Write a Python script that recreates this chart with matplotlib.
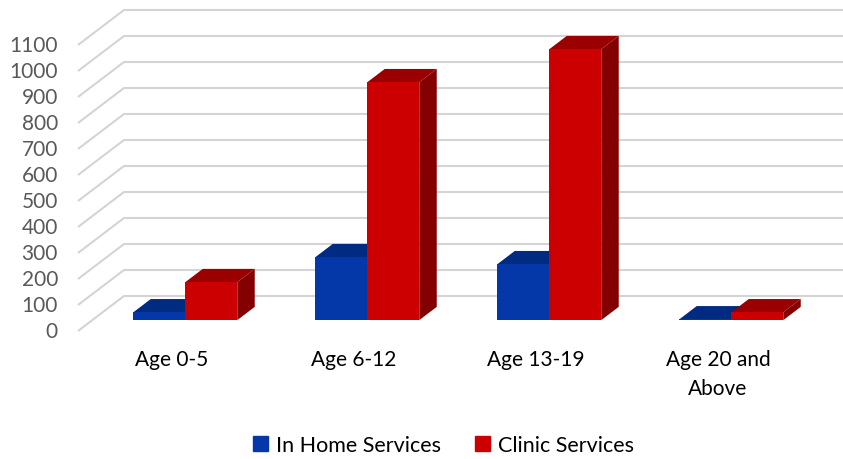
import matplotlib.pyplot as plt
from matplotlib.patches import Polygon, Patch

categories = ["Age 0-5", "Age 6-12", "Age 13-19", "Age 20 and\nAbove"]
in_home = [30, 242, 215, 3]
clinic = [146, 915, 1042, 30]
series_names = ["In Home Services", "Clinic Services"]
y_ticks = list(range(0, 1101, 100))

# colours: front, top, side
blue = ("#0438A8", "#002B80", "#001E5C")
red = ("#CC0000", "#9A0000", "#840000")

plt.rcParams['font.family'] = ['Lato', 'DejaVu Sans']

fig = plt.figure(figsize=(8.43, 4.6), dpi=100)
ax = fig.add_axes([0, 0, 1, 1])
# pixel-ish mapping: 182 px per category, 0.26 px per unit
ax.set_xlim(-172 / 182, (843 - 172) / 182)
ax.set_ylim((332 - 460) / 0.26, 332 / 0.26)
ax.axis('off')

# oblique floor depth (in data units)
fdx = 46 / 182
fdy = 35 / 0.26
x_left = (78 - 172) / 182
x_right = (843 - 172) / 182

## back wall gridlines
for v in y_ticks:
    ax.plot([x_left, x_left + fdx, x_right], [v, v + fdy, v + fdy],
            color="#D4D4D4", lw=1.5, solid_capstyle='butt', zorder=1)
    ax.text((58 - 172) / 182, v, str(v), ha='right', va='center',
            fontsize=15, color="#595959")

## bars
bw = 52 / 182
z0, z1 = 0.31, 0.69
def draw_bar(x0, val, cols):
    bx = x0 + z0 * fdx
    by = z0 * fdy
    ddx = (z1 - z0) * fdx
    ddy = (z1 - z0) * fdy
    side = [(bx + bw, by), (bx + bw + ddx, by + ddy),
            (bx + bw + ddx, by + ddy + val), (bx + bw, by + val)]
    top = [(bx, by + val), (bx + bw, by + val),
           (bx + bw + ddx, by + ddy + val), (bx + ddx, by + ddy + val)]
    ax.add_patch(Polygon(side, closed=True, fc=cols[2], ec='none', zorder=3))
    ax.add_patch(Polygon(top, closed=True, fc=cols[1], ec='none', zorder=3))
    ax.bar(bx, val, width=bw, bottom=by, align='edge', color=cols[0],
           edgecolor='none', zorder=3)

for i in range(len(categories)):
    start = i - 53 / 182
    draw_bar(start, in_home[i], blue)
    draw_bar(start + bw, clinic[i], red)
    ax.text(i, (332 - 350) / 0.26, categories[i], ha='center', va='top',
            fontsize=15, color="black", linespacing=1.55)

handles = [Patch(color=blue[0], label=series_names[0]),
           Patch(color=red[0], label=series_names[1])]
fig.legend(handles=handles, loc='center', bbox_to_anchor=(0.526, 0.03), ncol=2,
           frameon=False, fontsize=15.5, handlelength=0.7, handleheight=0.7,
           handletextpad=0.35, columnspacing=1.6)

fig.savefig("out.png", dpi=100)
